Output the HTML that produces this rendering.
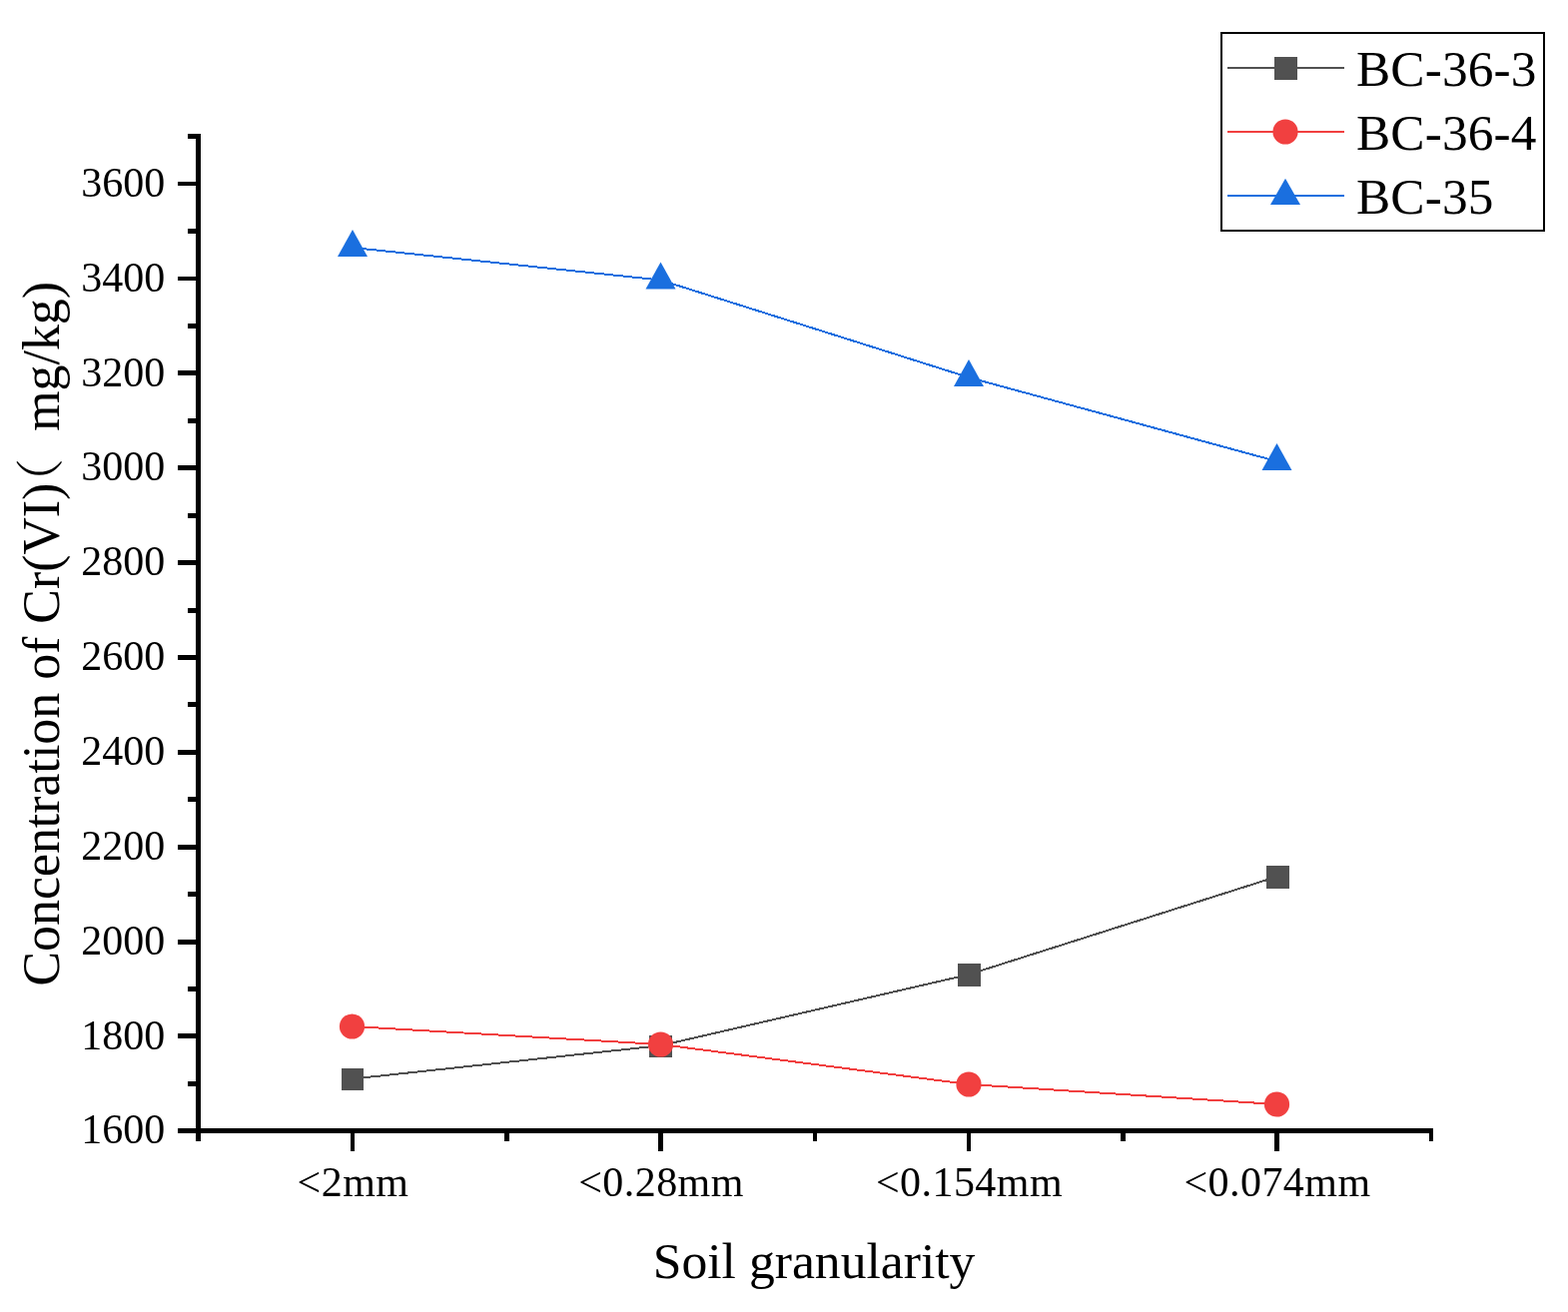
<!DOCTYPE html>
<html lang="en"><head><meta charset="utf-8"><title>Concentration of Cr(VI) vs soil granularity</title>
<style>
html,body{margin:0;padding:0;background:#fff;}
body{width:1570px;height:1314px;overflow:hidden;}
svg{display:block;}
text{font-family:"Liberation Serif","Noto Serif CJK SC",serif;fill:#000;font-kerning:none;font-variant-ligatures:none;}
.tk{font-size:42px;}
.tt{font-size:51.3px;}
.xt{font-size:51.65px;}
.yt{font-size:51.85px;}
.fw{font-family:"Noto Serif CJK SC","Noto Sans CJK SC",serif;}
</style></head><body>
<svg width="1570" height="1314" viewBox="0 0 1570 1314">
<rect x="0" y="0" width="1570" height="1314" fill="#fff"/>
<g fill="#000" shape-rendering="crispEdges">
<rect x="196" y="134" width="5" height="1009"/>
<rect x="178" y="1130" width="1257" height="5"/>
<rect x="188" y="134" width="8" height="5"/>
<rect x="178" y="182" width="18" height="4"/>
<rect x="188" y="229" width="8" height="5"/>
<rect x="178" y="277" width="18" height="4"/>
<rect x="188" y="324" width="8" height="5"/>
<rect x="178" y="371" width="18" height="5"/>
<rect x="188" y="419" width="8" height="5"/>
<rect x="178" y="466" width="18" height="5"/>
<rect x="188" y="514" width="8" height="5"/>
<rect x="178" y="561" width="18" height="5"/>
<rect x="188" y="609" width="8" height="5"/>
<rect x="178" y="656" width="18" height="5"/>
<rect x="188" y="703" width="8" height="5"/>
<rect x="178" y="751" width="18" height="5"/>
<rect x="188" y="798" width="8" height="5"/>
<rect x="178" y="846" width="18" height="5"/>
<rect x="188" y="893" width="8" height="5"/>
<rect x="178" y="941" width="18" height="5"/>
<rect x="188" y="988" width="8" height="5"/>
<rect x="178" y="1035" width="18" height="5"/>
<rect x="188" y="1083" width="8" height="5"/>
<rect x="351" y="1135" width="4" height="18"/>
<rect x="505" y="1135" width="5" height="8"/>
<rect x="659" y="1135" width="5" height="18"/>
<rect x="814" y="1135" width="4" height="8"/>
<rect x="968" y="1135" width="4" height="18"/>
<rect x="1122" y="1135" width="5" height="8"/>
<rect x="1276" y="1135" width="5" height="18"/>
<rect x="1431" y="1135" width="4" height="8"/>
</g>
<g class="tk" text-anchor="end">
<text x="165.2" y="1145.3">1600</text>
<text x="165.2" y="1050.5">1800</text>
<text x="165.2" y="955.6">2000</text>
<text x="165.2" y="860.8">2200</text>
<text x="165.2" y="765.9">2400</text>
<text x="165.2" y="671.0">2600</text>
<text x="165.2" y="576.2">2800</text>
<text x="165.2" y="481.3">3000</text>
<text x="165.2" y="386.5">3200</text>
<text x="165.2" y="291.7">3400</text>
<text x="165.2" y="196.8">3600</text>
</g>
<g class="tk" text-anchor="middle" letter-spacing="0.45">
<text x="353.5" y="1198">&lt;2mm</text>
<text x="662.0" y="1198">&lt;0.28mm</text>
<text x="970.5" y="1198">&lt;0.154mm</text>
<text x="1279.0" y="1198">&lt;0.074mm</text>
</g>
<text class="xt" text-anchor="middle" x="815.1" y="1280">Soil granularity</text>
<text class="yt" transform="translate(58.6 987.5) rotate(-90)" x="0" y="0">Concentration of Cr(VI)<tspan class="fw" dx="-24" dy="-0.5" font-size="48.7">（</tspan><tspan dx="14.2" dy="0.5"> mg/kg)</tspan></text>
<polyline points="353,1080.5 661.5,1047.2 970,976 1278.5,878" fill="none" stroke="#515151" stroke-width="2" shape-rendering="crispEdges"/>
<rect x="342" y="1070" width="22" height="22" fill="#515151" shape-rendering="crispEdges"/>
<rect x="650" y="1037" width="23" height="22" fill="#515151" shape-rendering="crispEdges"/>
<rect x="959" y="965" width="23" height="23" fill="#515151" shape-rendering="crispEdges"/>
<rect x="1268" y="867" width="23" height="23" fill="#515151" shape-rendering="crispEdges"/>
<polyline points="353,1028 661.5,1046 970,1086 1278.5,1106" fill="none" stroke="#F14040" stroke-width="2" shape-rendering="crispEdges"/>
<circle cx="352.5" cy="1028" r="12.6" fill="#F14040"/>
<circle cx="661.5" cy="1046" r="12.6" fill="#F14040"/>
<circle cx="970" cy="1086" r="12.6" fill="#F14040"/>
<circle cx="1278.5" cy="1106" r="12.6" fill="#F14040"/>
<polyline points="353,248 661.5,280.5 970,378 1278.5,462" fill="none" stroke="#1A6FDF" stroke-width="2" shape-rendering="crispEdges"/>
<polygon points="353,230 368,257 338,257" fill="#1A6FDF"/>
<polygon points="661.5,262.5 676.5,289.5 646.5,289.5" fill="#1A6FDF"/>
<polygon points="970,360 985,387 955,387" fill="#1A6FDF"/>
<polygon points="1278.5,444 1293.5,471 1263.5,471" fill="#1A6FDF"/>
<rect x="1223" y="33" width="323" height="198" fill="#fff" stroke="#000" stroke-width="2" shape-rendering="crispEdges"/>
<rect x="1229" y="67" width="117" height="2" fill="#515151" shape-rendering="crispEdges"/>
<rect x="1276" y="57" width="23" height="23" fill="#515151" shape-rendering="crispEdges"/>
<text class="tt" x="1358" y="86.4" letter-spacing="0.15">BC-36-3</text>
<rect x="1229" y="131" width="117" height="2" fill="#F14040" shape-rendering="crispEdges"/>
<circle cx="1287" cy="132" r="12.6" fill="#F14040"/>
<text class="tt" x="1358" y="150.4" letter-spacing="0.15">BC-36-4</text>
<rect x="1229" y="195" width="117" height="2" fill="#1A6FDF" shape-rendering="crispEdges"/>
<polygon points="1287,178.7 1302,205 1272,205" fill="#1A6FDF"/>
<text class="tt" x="1358" y="214.4" letter-spacing="0.15">BC-35</text>
</svg>
</body></html>
